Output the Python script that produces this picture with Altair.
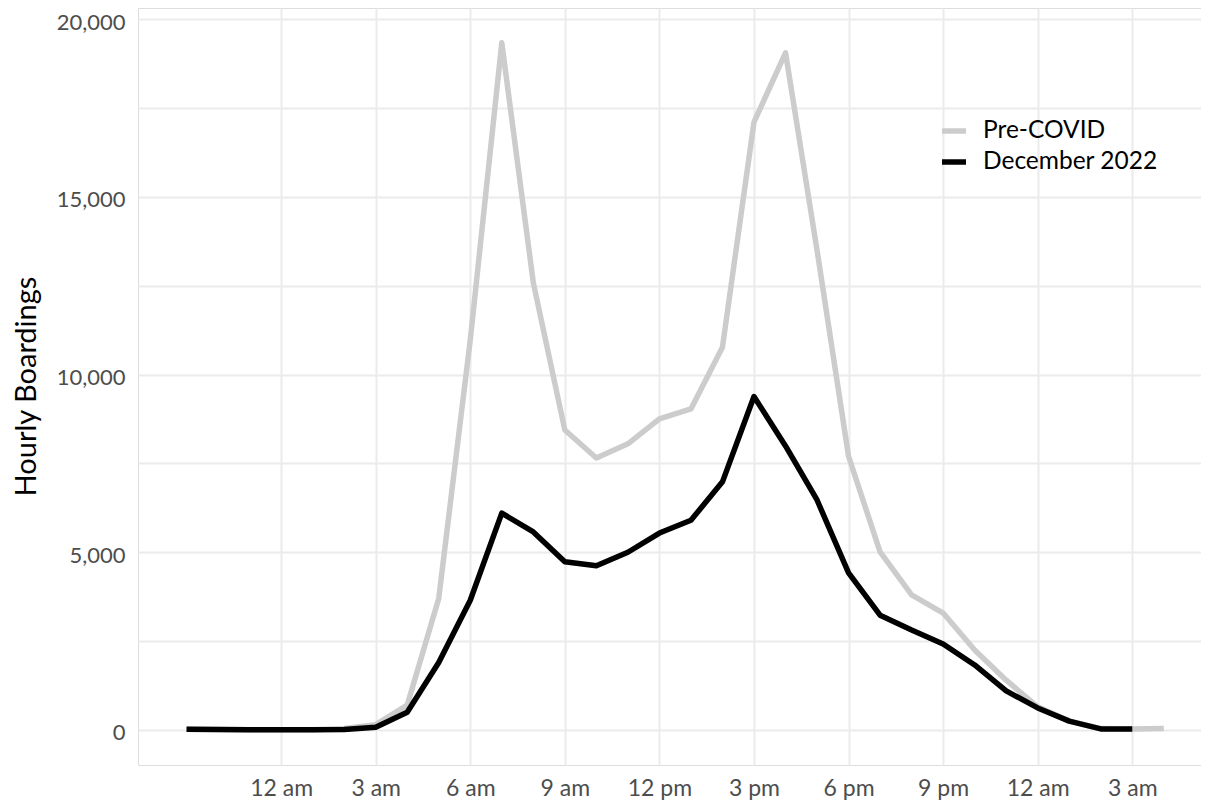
import altair as alt
import pandas as pd

hours = list(range(-3, 29))
pre_covid = [20, 15, 10, 5, 10, 40, 150, 700, 3700, 10970, 19330, 12580, 8440, 7650,
             8050, 8750, 9030, 10770, 17100, 19050, 13500, 7700, 5010, 3800, 3290,
             2250, 1400, 650, 250, 40, 30, 40]
hours_dec = list(range(-3, 28))
dec_2022 = [20, 15, 10, 5, 10, 15, 80, 500, 1900, 3650, 6100, 5570, 4730, 4620,
            5000, 5540, 5900, 6980, 9380, 7990, 6470, 4420, 3230, 2810, 2420,
            1830, 1100, 620, 250, 30, 30]

series_names = ["Pre-COVID", "December 2022"]
series_colors = ["#cccccc", "#000000"]

tick_hours = [0, 3, 6, 9, 12, 15, 18, 21, 24, 27]
tick_labels = ["12 am", "3 am", "6 am", "9 am", "12 pm", "3 pm", "6 pm", "9 pm", "12 am", "3 am"]

rows = []
for h, v in zip(hours, pre_covid):
    rows.append({"hour": h, "boardings": v, "series": series_names[0], "order": 0})
for h, v in zip(hours_dec, dec_2022):
    rows.append({"hour": h, "boardings": v, "series": series_names[1], "order": 1})
df = pd.DataFrame(rows)

label_map = "{" + ", ".join(f"'{h}': '{l}'" for h, l in zip(tick_hours, tick_labels)) + "}"

FONT = "Lato"

chart = alt.Chart(df).mark_line(strokeWidth=5.5, strokeJoin="round", strokeCap="butt").encode(
    x=alt.X("hour:Q",
            scale=alt.Scale(domain=[-4.54, 29.18], nice=False, zero=False),
            axis=alt.Axis(values=tick_hours, title=None, ticks=False, tickSize=0, domain=False,
                          labelExpr=f"{label_map}[datum.value + '']",
                          labelPadding=12, labelBaseline="top", labelFontSize=23,
                          labelColor="#4d4d4d", labelFont=FONT,
                          gridColor="#ebebeb", gridWidth=2)),
    y=alt.Y("boardings:Q",
            scale=alt.Scale(domain=[-985, 20310], nice=False, zero=False),
            axis=alt.Axis(values=[0, 2500, 5000, 7500, 10000, 12500, 15000, 17500, 20000],
                          labelExpr="datum.value % 5000 == 0 ? format(datum.value, ',') : ''",
                          title="Hourly Boardings", ticks=False, tickSize=0, domain=False,
                          labelPadding=13, labelFontSize=22, labelOffset=3,
                          labelColor="#4d4d4d", labelFont=FONT,
                          titleFont=FONT, titleFontSize=29, titleFontWeight="normal",
                          titleColor="#000000", titleX=-112, titleY=378, titleAngle=-90,
                          titleAlign="center", titleBaseline="middle",
                          gridColor="#ebebeb", gridWidth=2)),
    color=alt.Color("series:N",
                    scale=alt.Scale(domain=series_names, range=series_colors),
                    legend=alt.Legend(title=None, orient="none", legendX=801, legendY=108,
                                      symbolType="stroke", symbolStrokeWidth=5.5,
                                      symbolSize=576, labelFontSize=24.5, labelFont=FONT,
                                      labelColor="#000000", labelOffset=14, rowPadding=4,
                                      labelLimit=400, padding=0)),
    order=alt.Order("order:Q"),
    detail="series:N",
).properties(
    width=1063, height=757,
    autosize=alt.AutoSizeParams(type="none"),
    padding={"left": 130, "top": 0, "right": 0, "bottom": 40},
).configure_view(stroke=None).configure(background="white")

chart.save("out.html", embed_options={"renderer": "svg", "actions": False})
